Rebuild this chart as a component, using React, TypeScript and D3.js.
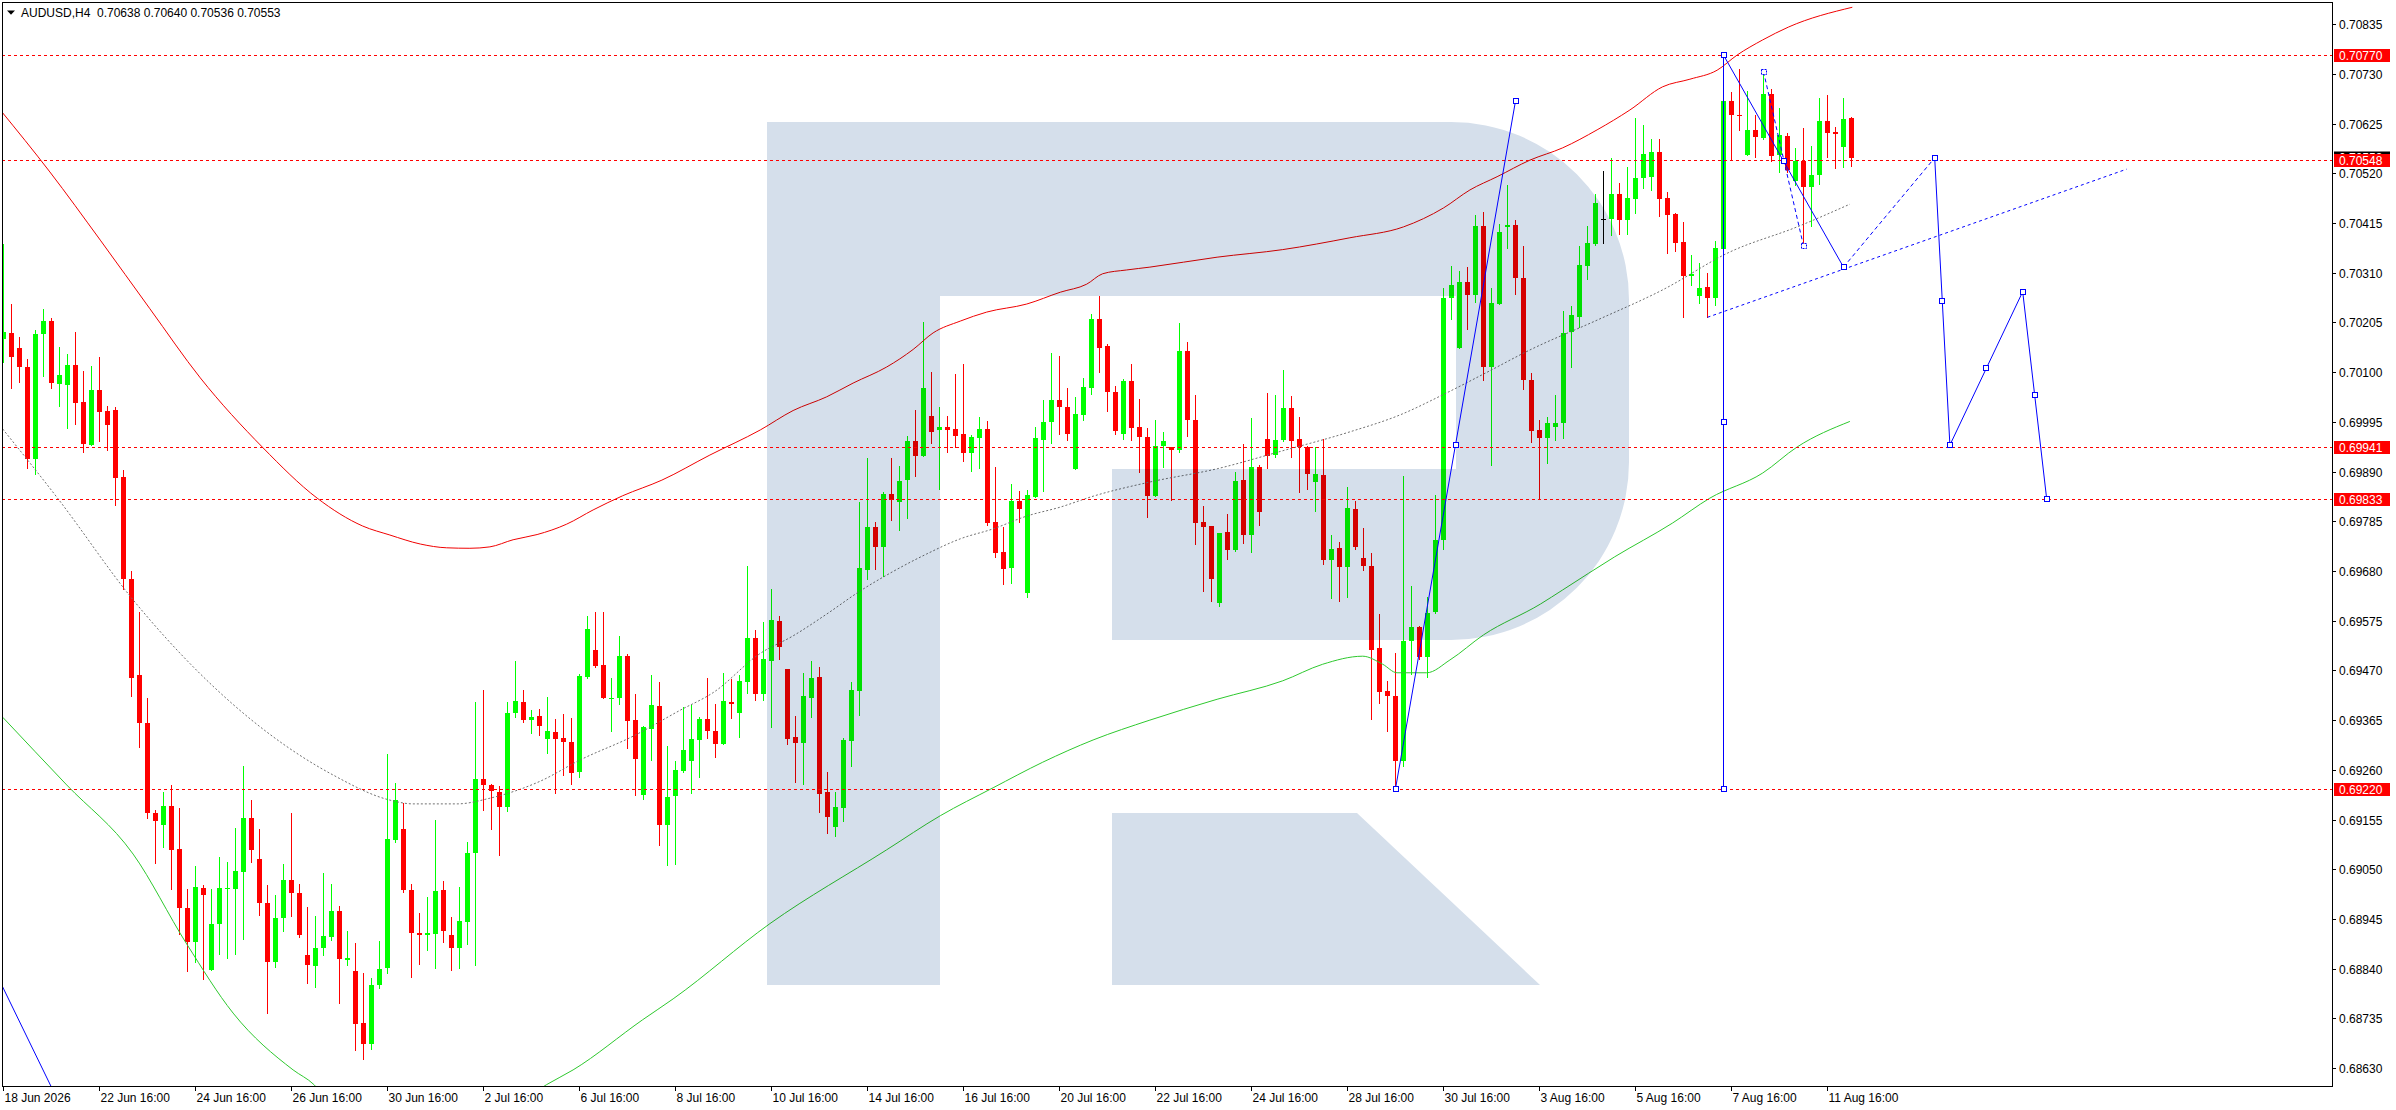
import React from "react";
import * as d3 from "d3";

const W = 2396;
const H = 1110;
const PL = 2, PT = 2, PR = 2332, PB = 1086;

const BULL = "#00ff00";
const BEAR = "#ff0000";
const BLUE = "#0000ff";
const FONT = "'Liberation Sans', Arial, sans-serif";

// [open, high, low, close] for each H4 bar, starting 18 Jun 2026 16:00
const ohlc: number[][] = [
  [0.70170,0.70370,0.70122,0.70184],[0.70182,0.70245,0.70066,0.70133],[0.70151,0.70175,0.70080,0.70111],[0.70111,0.70127,0.69898,0.69917],
  [0.69917,0.70189,0.69884,0.70180],[0.70180,0.70234,0.70091,0.70208],[0.70208,0.70215,0.70066,0.70077],[0.70075,0.70153,0.70029,0.70094],
  [0.70074,0.70139,0.69982,0.70115],[0.70115,0.70185,0.69990,0.70035],[0.70037,0.70102,0.69932,0.69949],[0.69946,0.70113,0.69946,0.70063],
  [0.70063,0.70133,0.69954,0.70016],[0.70018,0.70028,0.69936,0.69989],[0.70020,0.70026,0.69820,0.69876],[0.69878,0.69893,0.69643,0.69664],
  [0.69664,0.69680,0.69415,0.69455],[0.69460,0.69593,0.69308,0.69359],[0.69359,0.69412,0.69158,0.69169],[0.69169,0.69175,0.69063,0.69151],
  [0.69143,0.69213,0.69096,0.69184],[0.69184,0.69227,0.69008,0.69091],[0.69093,0.69179,0.68914,0.68968],[0.68968,0.69008,0.68835,0.68896],
  [0.68896,0.69056,0.68855,0.69013],[0.69010,0.69017,0.68819,0.68996],[0.68838,0.69008,0.68838,0.68934],[0.68934,0.69075,0.68870,0.69010],
  [0.69008,0.69065,0.68863,0.69010],[0.69008,0.69138,0.68870,0.69046],[0.69045,0.69268,0.68903,0.69158],[0.69158,0.69196,0.69065,0.69090],
  [0.69072,0.69134,0.68954,0.68978],[0.68978,0.69016,0.68746,0.68853],[0.68855,0.68995,0.68843,0.68947],[0.68947,0.69061,0.68920,0.69027],
  [0.69027,0.69168,0.68951,0.69000],[0.69000,0.69018,0.68907,0.68911],[0.68868,0.68971,0.68810,0.68848],[0.68846,0.68951,0.68801,0.68884],
  [0.68883,0.69041,0.68869,0.68909],[0.68906,0.69018,0.68901,0.68961],[0.68961,0.68972,0.68768,0.68860],[0.68859,0.68919,0.68847,0.68863],
  [0.68835,0.68894,0.68668,0.68724],[0.68726,0.68830,0.68648,0.68681],[0.68681,0.68820,0.68671,0.68806],[0.68805,0.68898,0.68798,0.68840],
  [0.68841,0.69294,0.68830,0.69113],[0.69112,0.69233,0.69108,0.69197],[0.69135,0.69190,0.69002,0.69006],[0.69006,0.69018,0.68822,0.68916],
  [0.68915,0.68958,0.68849,0.68912],[0.68912,0.68992,0.68879,0.68915],[0.68913,0.69155,0.68842,0.69004],[0.69006,0.69025,0.68896,0.68919],
  [0.68911,0.68950,0.68836,0.68883],[0.68883,0.69012,0.68842,0.68941],[0.68938,0.69108,0.68891,0.69085],[0.69085,0.69403,0.68847,0.69240],
  [0.69240,0.69429,0.69175,0.69227],[0.69227,0.69230,0.69135,0.69216],[0.69213,0.69226,0.69079,0.69182],[0.69182,0.69403,0.69173,0.69380],
  [0.69380,0.69490,0.69371,0.69406],[0.69403,0.69429,0.69360,0.69365],[0.69366,0.69387,0.69337,0.69372],[0.69373,0.69388,0.69334,0.69353],
  [0.69326,0.69414,0.69295,0.69342],[0.69340,0.69368,0.69210,0.69326],[0.69327,0.69378,0.69248,0.69318],[0.69319,0.69370,0.69231,0.69254],
  [0.69256,0.69462,0.69244,0.69458],[0.69457,0.69584,0.69455,0.69558],[0.69513,0.69593,0.69477,0.69480],[0.69481,0.69593,0.69411,0.69411],
  [0.69411,0.69454,0.69343,0.69412],[0.69411,0.69543,0.69399,0.69500],[0.69500,0.69504,0.69307,0.69364],[0.69365,0.69420,0.69206,0.69282],
  [0.69206,0.69353,0.69198,0.69351],[0.69347,0.69461,0.69281,0.69396],[0.69395,0.69446,0.69101,0.69143],[0.69143,0.69310,0.69058,0.69202],
  [0.69205,0.69279,0.69061,0.69259],[0.69258,0.69393,0.69256,0.69302],[0.69278,0.69397,0.69212,0.69326],[0.69324,0.69372,0.69244,0.69368],
  [0.69368,0.69453,0.69328,0.69341],[0.69342,0.69399,0.69288,0.69314],[0.69315,0.69465,0.69314,0.69406],[0.69403,0.69452,0.69370,0.69400],
  [0.69381,0.69461,0.69330,0.69448],[0.69446,0.69690,0.69423,0.69539],[0.69539,0.69555,0.69408,0.69421],[0.69421,0.69573,0.69408,0.69494],
  [0.69490,0.69642,0.69351,0.69576],[0.69575,0.69585,0.69494,0.69519],[0.69472,0.69474,0.69315,0.69325],[0.69329,0.69374,0.69234,0.69317],
  [0.69317,0.69465,0.69229,0.69415],[0.69412,0.69490,0.69372,0.69454],[0.69456,0.69477,0.69171,0.69208],[0.69213,0.69255,0.69126,0.69160],
  [0.69139,0.69213,0.69120,0.69181],[0.69180,0.69327,0.69151,0.69322],[0.69321,0.69446,0.69268,0.69429],[0.69427,0.69826,0.69376,0.69686],
  [0.69683,0.69919,0.69664,0.69773],[0.69773,0.69784,0.69684,0.69731],[0.69731,0.69847,0.69669,0.69842],[0.69842,0.69919,0.69788,0.69829],
  [0.69826,0.69902,0.69767,0.69871],[0.69873,0.69965,0.69791,0.69955],[0.69955,0.70020,0.69881,0.69923],[0.69924,0.70206,0.69924,0.70067],
  [0.70007,0.70100,0.69950,0.69974],[0.69977,0.70027,0.69854,0.69984],[0.69984,0.70007,0.69932,0.69977],[0.69979,0.70096,0.69942,0.69966],
  [0.69970,0.70117,0.69913,0.69930],[0.69930,0.69967,0.69892,0.69964],[0.69962,0.70006,0.69898,0.69980],[0.69980,0.69997,0.69777,0.69782],
  [0.69783,0.69899,0.69710,0.69718],[0.69720,0.69773,0.69653,0.69685],[0.69687,0.69863,0.69655,0.69828],[0.69828,0.69849,0.69783,0.69812],
  [0.69633,0.69851,0.69626,0.69840],[0.69837,0.69984,0.69837,0.69961],[0.69957,0.70042,0.69850,0.69995],[0.69995,0.70141,0.69951,0.70041],
  [0.70041,0.70135,0.69970,0.70026],[0.70027,0.70067,0.69956,0.69970],[0.69896,0.70048,0.69896,0.70012],[0.70010,0.70087,0.69999,0.70069],
  [0.70066,0.70223,0.70055,0.70213],[0.70213,0.70261,0.70101,0.70152],[0.70156,0.70160,0.70017,0.70059],[0.70058,0.70070,0.69970,0.69976],
  [0.69970,0.70085,0.69958,0.70082],[0.70081,0.70117,0.69956,0.69983],[0.69985,0.70044,0.69890,0.69964],[0.69964,0.69982,0.69795,0.69838],
  [0.69838,0.69999,0.69838,0.69945],[0.69945,0.69974,0.69899,0.69955],[0.69941,0.69942,0.69831,0.69935],[0.69935,0.70204,0.69932,0.70145],
  [0.70145,0.70164,0.69965,0.70000],[0.69999,0.70052,0.69738,0.69782],[0.69784,0.69817,0.69638,0.69772],[0.69775,0.69776,0.69617,0.69664],
  [0.69613,0.69760,0.69607,0.69760],[0.69762,0.69801,0.69705,0.69725],[0.69725,0.69889,0.69722,0.69871],[0.69872,0.69948,0.69740,0.69757],
  [0.69757,0.70004,0.69720,0.69899],[0.69899,0.69904,0.69777,0.69805],[0.69959,0.70056,0.69898,0.69924],[0.69925,0.70051,0.69920,0.69957],
  [0.69957,0.70104,0.69954,0.70025],[0.70025,0.70050,0.69920,0.69954],[0.69959,0.70005,0.69846,0.69941],[0.69941,0.69944,0.69853,0.69885],
  [0.69867,0.69941,0.69806,0.69884],[0.69883,0.69959,0.69694,0.69704],[0.69704,0.69756,0.69622,0.69726],[0.69729,0.69742,0.69617,0.69688],
  [0.69688,0.69857,0.69626,0.69813],[0.69811,0.69827,0.69726,0.69731],[0.69708,0.69770,0.69683,0.69691],[0.69691,0.69718,0.69367,0.69514],
  [0.69518,0.69590,0.69402,0.69425],[0.69427,0.69448,0.69342,0.69415],[0.69416,0.69507,0.69221,0.69278],[0.69278,0.69881,0.69267,0.69532],
  [0.69533,0.69648,0.69462,0.69562],[0.69562,0.69563,0.69494,0.69498],[0.69498,0.69626,0.69457,0.69591],[0.69593,0.69841,0.69591,0.69746],
  [0.69746,0.70278,0.69727,0.70257],[0.70257,0.70324,0.70212,0.70285],[0.70152,0.70313,0.70152,0.70291],[0.70291,0.70323,0.70191,0.70263],
  [0.70263,0.70432,0.70249,0.70409],[0.70409,0.70438,0.70083,0.70112],[0.70112,0.70278,0.69904,0.70246],[0.70245,0.70414,0.70245,0.70396],
  [0.70406,0.70496,0.70363,0.70412],[0.70411,0.70421,0.70266,0.70298],[0.70298,0.70366,0.70065,0.70084],[0.70084,0.70099,0.69952,0.69975],
  [0.69978,0.69999,0.69833,0.69962],[0.69960,0.70006,0.69908,0.69992],[0.69984,0.70052,0.69957,0.69992],[0.69992,0.70229,0.69960,0.70182],
  [0.70184,0.70239,0.70110,0.70221],[0.70217,0.70367,0.70196,0.70327],[0.70325,0.70408,0.70296,0.70372],[0.70371,0.70477,0.70369,0.70457],
  [0.70424,0.70525,0.70372,0.70424],[0.70424,0.70553,0.70389,0.70476],[0.70476,0.70500,0.70393,0.70422],[0.70422,0.70534,0.70391,0.70467],
  [0.70466,0.70637,0.70437,0.70510],[0.70510,0.70622,0.70490,0.70561],[0.70513,0.70592,0.70485,0.70565],[0.70565,0.70593,0.70429,0.70466],
  [0.70467,0.70480,0.70351,0.70432],[0.70434,0.70437,0.70357,0.70372],[0.70375,0.70417,0.70217,0.70303],[0.70303,0.70348,0.70284,0.70307],
  [0.70260,0.70331,0.70247,0.70277],[0.70279,0.70310,0.70217,0.70256],[0.70256,0.70378,0.70242,0.70362],[0.70360,0.70690,0.70340,0.70672],
  [0.70672,0.70693,0.70551,0.70643],[0.70643,0.70741,0.70612,0.70641],[0.70559,0.70694,0.70559,0.70612],[0.70612,0.70643,0.70555,0.70596],
  [0.70594,0.70728,0.70593,0.70688],[0.70688,0.70698,0.70547,0.70557],[0.70559,0.70658,0.70522,0.70601],[0.70599,0.70605,0.70522,0.70527],
  [0.70503,0.70573,0.70496,0.70546],[0.70546,0.70616,0.70372,0.70492],[0.70492,0.70578,0.70408,0.70516],[0.70516,0.70679,0.70498,0.70631],
  [0.70631,0.70686,0.70554,0.70606],[0.70608,0.70619,0.70531,0.70604],[0.70575,0.70679,0.70533,0.70634],[0.70638,0.70640,0.70536,0.70553],
];

// indicator lines: [bar index, price]
const upperBand: number[][] = [
  [-0.4,0.70654],[5.8,0.70523],[12.1,0.70379],[18.3,0.70234],[24.6,0.70088],[32.4,0.69941],[39.2,0.69834],[44.9,0.69775],
  [48.3,0.69756],[52.1,0.69737],[55.4,0.69729],[58.3,0.69728],[60.8,0.69731],[63.7,0.69746],[66.7,0.69757],[70.4,0.69779],
  [73.7,0.69809],[77.4,0.69839],[82.3,0.69872],[88.3,0.69925],[94.6,0.69978],[98.7,0.70019],[102.9,0.70048],[106.2,0.70077],
  [110.4,0.70111],[113.7,0.70148],[116.2,0.70183],[119.6,0.70208],[122.9,0.70227],[127.9,0.70244],[132.1,0.70269],[135.4,0.70286],
  [137.4,0.70308],[140.4,0.70316],[143.3,0.70322],[151.7,0.70343],[159.9,0.70359],[168.3,0.70384],[175.0,0.70407],[180.0,0.70447],
  [183.3,0.70485],[186.7,0.70513],[190.8,0.70548],[194.9,0.70574],[199.2,0.70612],[203.3,0.70654],[207.4,0.70703],[210.8,0.70719],
  [214.2,0.70738],[216.7,0.70770],[219.9,0.70802],[223.1,0.70829],[231.1,0.70871],
];
const middleBand: number[][] = [
  [-0.1,0.69980],[6.8,0.69833],[16.2,0.69619],[32.9,0.69340],[41.2,0.69249],[48.3,0.69196],[51.2,0.69188],[56.7,0.69188],
  [60.8,0.69200],[67.1,0.69236],[72.1,0.69281],[78.7,0.69331],[84.6,0.69386],[88.7,0.69423],[94.6,0.69506],[98.7,0.69543],
  [102.9,0.69589],[107.1,0.69638],[111.2,0.69679],[115.4,0.69716],[119.6,0.69748],[123.7,0.69769],[127.9,0.69796],[132.1,0.69815],
  [136.2,0.69838],[143.3,0.69868],[151.7,0.69896],[159.9,0.69934],[168.3,0.69974],[174.6,0.70010],[180.0,0.70053],[185.0,0.70096],
  [190.8,0.70147],[199.2,0.70210],[207.4,0.70274],[215.8,0.70354],[224.2,0.70407],[230.8,0.70455],
];
const lowerBand: number[][] = [
  [-0.1,0.69371],[7.9,0.69228],[16.2,0.69082],[22.9,0.68892],[28.7,0.68746],[36.2,0.68626],[38.8,0.68595],[43.3,0.68488],
  [49.6,0.68461],[55.8,0.68478],[62.1,0.68531],[67.9,0.68595],[71.2,0.68626],[79.9,0.68732],[83.7,0.68776],[95.8,0.68935],
  [110.4,0.69091],[117.1,0.69163],[123.7,0.69222],[129.9,0.69276],[136.2,0.69323],[143.3,0.69365],[151.7,0.69409],[159.9,0.69448],
  [164.9,0.69483],[169.9,0.69500],[172.4,0.69483],[174.2,0.69465],[177.9,0.69465],[180.8,0.69492],[185.0,0.69545],[192.1,0.69610],
  [194.9,0.69640],[201.4,0.69710],[208.6,0.69781],[213.3,0.69834],[219.9,0.69887],[224.2,0.69942],[230.8,0.69996],
];

// analysis objects: [bar index, price]
const waveUp: number[][] = [[174, 0.69220], [189, 0.70673]];
const waveVertical: number[][] = [[215, 0.70770], [215, 0.69220]];
const waveDown: number[][] = [[215, 0.70770], [230, 0.70322]];
const shortDashed: number[][] = [[220, 0.70735], [225, 0.70367]];
const trendDotted: number[][] = [[213, 0.70216], [265.4, 0.70529]];
const forecastDashed: number[][] = [[230, 0.70322], [241.4, 0.70553]];
const forecastPath: number[][] = [[241.4, 0.70553], [243.3, 0.69946], [252.4, 0.70270], [255.4, 0.69832]];
const leftTrend: number[][] = [[-0.5, 0.68815], [7.5, 0.68537]];

const levels = [0.7077, 0.70548, 0.69941, 0.69833, 0.6922];
const currentPrice = 0.70553;
const priceTicks = d3.range(22).map((k) => 0.6863 + k * 0.00105);
const timeLabels = [
  "18 Jun 2026", "22 Jun 16:00", "24 Jun 16:00", "26 Jun 16:00", "30 Jun 16:00", "2 Jul 16:00", "6 Jul 16:00",
  "8 Jul 16:00", "10 Jul 16:00", "14 Jul 16:00", "16 Jul 16:00", "20 Jul 16:00", "22 Jul 16:00", "24 Jul 16:00",
  "28 Jul 16:00", "30 Jul 16:00", "3 Aug 16:00", "5 Aug 16:00", "7 Aug 16:00", "11 Aug 16:00",
];
const labelStep = 12;
const headerText = "AUDUSD,H4  0.70638 0.70640 0.70536 0.70553";

const x = d3.scaleLinear().domain([0, 231]).range([3.5, 3.5 + 8 * 231]);
const y = d3.scaleLinear().domain([0.6863, 0.70835]).range([1068, 24.3]);

const curveLine = d3.line<number[]>().x((d) => x(d[0])).y((d) => y(d[1])).curve(d3.curveMonotoneX);
const straight = d3.line<number[]>().x((d) => x(d[0])).y((d) => y(d[1]));

function markers(pts: number[][], withMid: boolean) {
  const out: number[][] = [];
  pts.forEach((p, i) => {
    out.push(p);
    if (withMid && i < pts.length - 1) {
      const q = pts[i + 1];
      out.push([(p[0] + q[0]) / 2, (p[1] + q[1]) / 2]);
    }
  });
  return out;
}

export default function App() {
  const sq = (pts: number[][], dashed = false) =>
    pts.map((p, i) => (
      <rect key={i} x={Math.round(x(p[0])) - 2.5} y={Math.round(y(p[1])) - 2.5} width={5} height={5}
        fill="#fff" stroke={BLUE} strokeWidth={1} strokeDasharray={dashed ? "2,1" : undefined} />
    ));

  return (
    <svg width={W} height={H} style={{ position: "absolute", left: 0, top: 0, background: "#fff" }}
      fontFamily={FONT}>
      <defs>
        <clipPath id="plot">
          <rect x={PL + 1} y={PT + 1} width={PR - PL - 1} height={PB - PT - 1} />
        </clipPath>
      </defs>
      <rect x={0} y={0} width={W} height={H} fill="#fff" />

      <g clipPath="url(#plot)">
        {/* candles */}
        {ohlc.map(([o, h, l, c], i) => {
          const cx = x(i);
          const col = c > o ? BULL : c < o ? BEAR : "#000";
          const top = Math.round(y(Math.max(o, c)));
          const bot = Math.round(y(Math.min(o, c)));
          return (
            <g key={i}>
              <line x1={cx} x2={cx} y1={Math.round(y(h))} y2={Math.round(y(l)) + 1} stroke={col} strokeWidth={1} />
              <rect x={cx - 2.5} y={top} width={5} height={Math.max(1, bot - top)} fill={col} />
            </g>
          );
        })}

        {/* indicator bands */}
        <path d={curveLine(upperBand) || ""} fill="none" stroke="#f00000" strokeWidth={1} />
        <path d={curveLine(lowerBand) || ""} fill="none" stroke="#2ec82e" strokeWidth={1} />
        <path d={curveLine(middleBand) || ""} fill="none" stroke="#707070" strokeWidth={1} strokeDasharray="2,2" />

        {/* watermark */}
        <g style={{ mixBlendMode: "multiply" }} fill="#d5dfeb">
          <path d="M767,122 H1451 A178,178 0 0 1 1629,300 V462 A178,178 0 0 1 1451,640 H1112 V469 H1456 V296 H940 V985 H767 Z" />
          <path d="M1112,813 H1357 L1540,985 H1112 Z" />
        </g>

        {/* horizontal levels */}
        {levels.map((lv) => (
          <line key={lv} x1={PL} x2={PR} y1={Math.round(y(lv)) + 0.5} y2={Math.round(y(lv)) + 0.5}
            stroke="#ff0000" strokeWidth={1} strokeDasharray="3,3" />
        ))}

        {/* analysis objects */}
        <path d={straight(leftTrend) || ""} stroke={BLUE} strokeWidth={1} fill="none" />
        <path d={straight(trendDotted) || ""} stroke={BLUE} strokeWidth={1} fill="none" strokeDasharray="3,3" />
        <path d={straight(shortDashed) || ""} stroke={BLUE} strokeWidth={1} fill="none" strokeDasharray="4,3" />
        <path d={straight(forecastDashed) || ""} stroke={BLUE} strokeWidth={1} fill="none" strokeDasharray="4,3" />
        <path d={straight(waveUp) || ""} stroke={BLUE} strokeWidth={1} fill="none" />
        <path d={straight(waveVertical) || ""} stroke={BLUE} strokeWidth={1} fill="none" />
        <path d={straight(waveDown) || ""} stroke={BLUE} strokeWidth={1} fill="none" />
        <path d={straight(forecastPath) || ""} stroke={BLUE} strokeWidth={1} fill="none" />
        {sq(markers(waveUp, true))}
        {sq(markers(waveVertical, true))}
        {sq(markers(waveDown, true))}
        {sq(markers(forecastPath, true))}
        {sq(shortDashed, true)}
      </g>

      {/* frame */}
      <rect x={PL + 0.5} y={PT + 0.5} width={PR - PL} height={PB - PT} fill="none" stroke="#000" strokeWidth={1} />

      {/* header */}
      <path d="M7,10.5 L15,10.5 L11,14.8 Z" fill="#000" />
      <text x={21} y={17} fontSize={12} fill="#000" style={{ whiteSpace: "pre" }}>{headerText}</text>

      {/* price axis */}
      {priceTicks.map((p) => {
        const yy = Math.round(y(p)) + 0.5;
        return (
          <g key={p}>
            <line x1={PR} x2={PR + 4} y1={yy} y2={yy} stroke="#000" />
            <text x={2339} y={yy + 4} fontSize={12} fill="#000">{p.toFixed(5)}</text>
          </g>
        );
      })}
      {/* current price label (under) */}
      <rect x={2334} y={Math.round(y(currentPrice)) - 6.5} width={56} height={13} fill="#000" />
      <text x={2339} y={Math.round(y(currentPrice)) + 4} fontSize={12} fill="#fff">{currentPrice.toFixed(5)}</text>
      {levels.map((lv) => {
        const yy = Math.round(y(lv));
        return (
          <g key={lv}>
            <rect x={2334} y={yy - 6} width={56} height={13} fill="#ff0000" />
            <text x={2339} y={yy + 4.5} fontSize={12} fill="#fff">{lv.toFixed(5)}</text>
          </g>
        );
      })}

      {/* time axis */}
      {timeLabels.map((t, k) => {
        const xx = x(k * labelStep);
        return (
          <g key={t}>
            <line x1={xx} x2={xx} y1={PB} y2={PB + 5} stroke="#000" />
            <text x={xx + 1} y={1102} fontSize={12} fill="#000">{t}</text>
          </g>
        );
      })}
    </svg>
  );
}
